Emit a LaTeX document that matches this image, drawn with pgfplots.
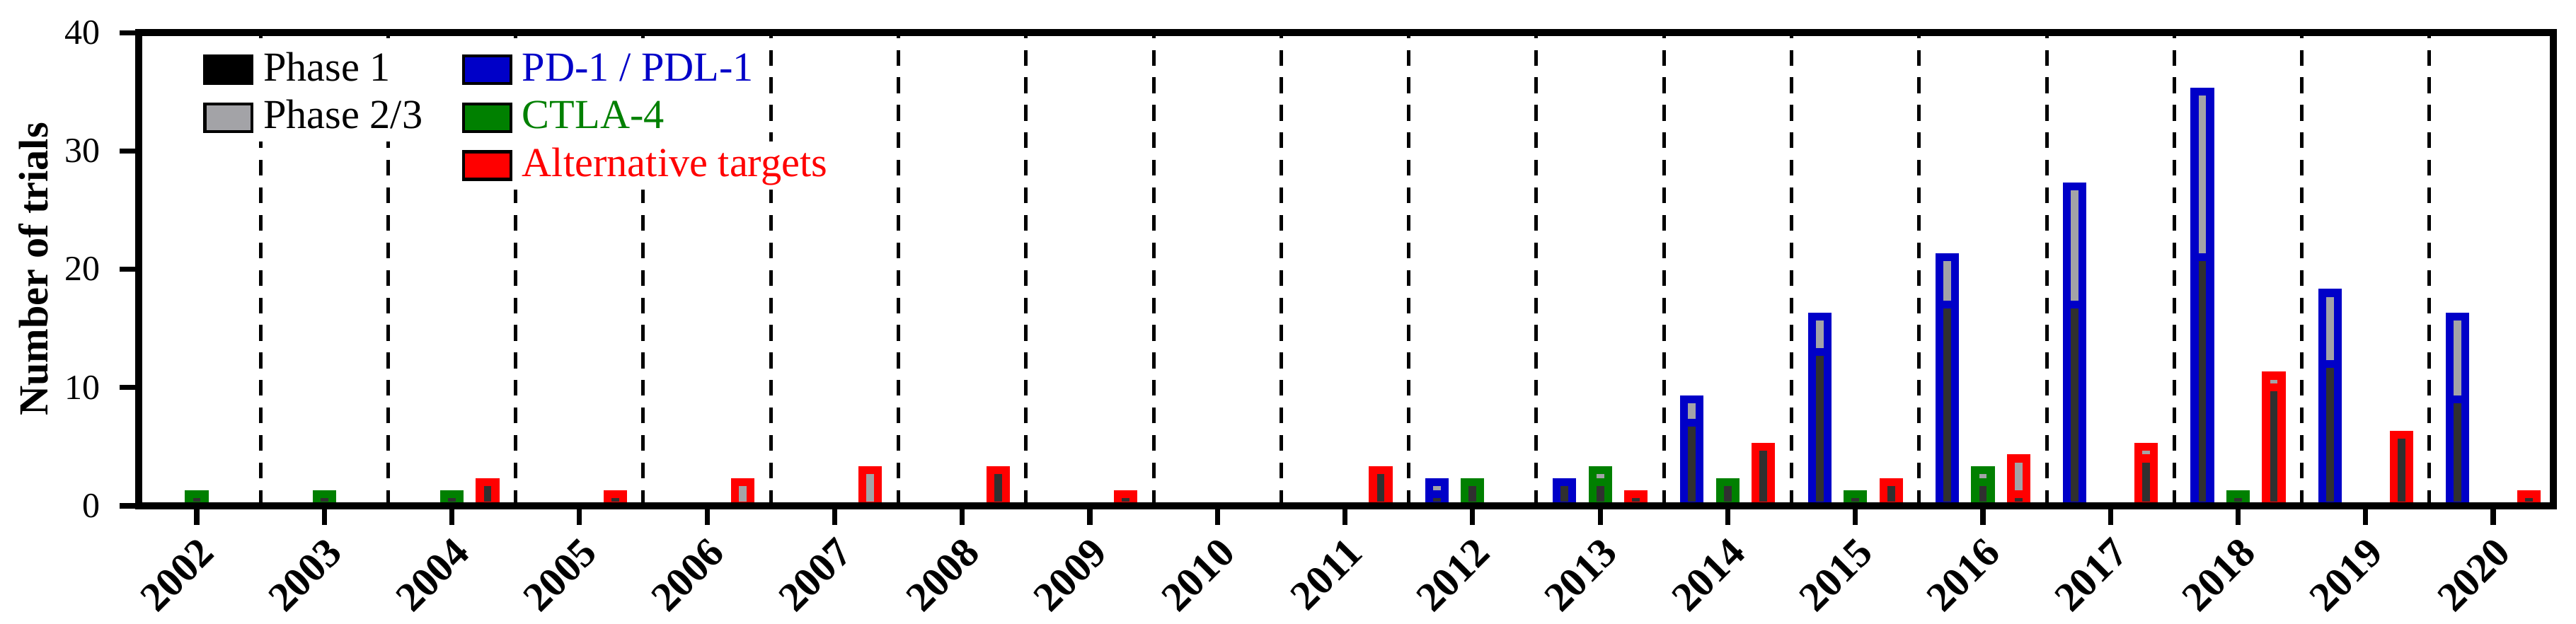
\documentclass[border=0pt]{standalone}
\usepackage{fontspec}
\setmainfont{Liberation Serif}
\usepackage{pgfplots}
\pgfplotsset{compat=1.18}

\definecolor{pdblue}{RGB}{0,0,200}
\definecolor{ctgreen}{RGB}{0,128,0}
\definecolor{altred}{RGB}{255,0,0}
\definecolor{phone}{RGB}{48,48,48}
\definecolor{phtwo}{RGB}{163,163,167}

\pgfplotsset{
  trialbar/.style={ybar, bar width=0.122, line width=2pt, forget plot},
}

\begin{document}
\begin{tikzpicture}
\path[use as bounding box] (-35.28pt,-30.06pt) rectangle (620pt,128.7pt);
\begin{axis}[
    scale only axis,
    width=614.2pt, height=120.4pt,
    xmin=-0.455, xmax=18.47,
    ymin=0, ymax=40,
    xtick={0,...,18},
    xticklabels={2002,2003,2004,2005,2006,2007,2008,2009,2010,2011,2012,2013,2014,2015,2016,2017,2018,2019,2020},
    ytick={0,10,20,30,40},
    tick pos=left,
    tick align=outside,
    major tick length=4.8pt,
    every tick/.style={black, line width=1.3pt},
    minor xtick={0.5,1.5,...,17.5},
    minor tick length=0pt,
    xminorgrids,
    minor grid style={black, line width=0.9pt, dash pattern=on 4pt off 3pt},
    axis line style={line width=1.8pt},
    axis on top,
    yticklabel shift=1.5pt,
    xticklabel style={yshift=-0.5pt, rotate=45, anchor=north east, inner sep=1.5pt,
                      font=\fontsize{10.5}{12}\selectfont\bfseries},
    yticklabel style={font=\fontsize{9}{11}\selectfont},
    /pgf/number format/assume math mode=true,
    ylabel={Number of trials},
    ylabel style={at={(axis description cs:-0.0437,0.5)}, anchor=center,
                  font=\fontsize{10.5}{12}\selectfont\bfseries},
    legend columns=2,
    legend cell align=left,
    legend image code/.code={\draw[#1] (0pt,-3.5pt) rectangle (12pt,3.5pt);},
    legend style={at={(0.0264,0.974)}, anchor=north west, draw=none, fill=none,
                  font=\fontsize{10.5}{12}\selectfont,
                  inner sep=0pt, row sep=0pt,
                  nodes={fill=white, inner xsep=2.5pt, inner ysep=0.7pt,
                         text height=8.2pt, text depth=2.6pt},
                  /tikz/every even column/.append style={column sep=7.5pt}},
]
% PD-1 / PDL-1: total, then phase 1
\addplot[trialbar, bar shift=-0.28, draw=pdblue, fill=phtwo] coordinates {
  (10,2) (11,2) (12,9) (13,16) (14,21) (15,27) (16,35) (17,18) (18,16)};
\addplot[trialbar, bar shift=-0.28, draw=pdblue, fill=phone] coordinates {
  (10,1) (11,2) (12,7) (13,13) (14,17) (15,17) (16,21) (17,12) (18,9)};
% CTLA-4
\addplot[trialbar, bar shift=0, draw=ctgreen, fill=phtwo] coordinates {
  (0,1) (1,1) (2,1) (10,2) (11,3) (12,2) (13,1) (14,3) (16,1)};
\addplot[trialbar, bar shift=0, draw=ctgreen, fill=phone] coordinates {
  (0,1) (1,1) (2,1) (10,2) (11,2) (12,2) (13,1) (14,2) (16,1)};
% alternative targets
\addplot[trialbar, bar shift=0.28, draw=altred, fill=phtwo] coordinates {
  (2,2) (3,1) (4,2) (5,3) (6,3) (7,1) (9,3) (11,1) (12,5) (13,2) (14,4) (15,5) (16,11) (17,6) (18,1)};
\addplot[trialbar, bar shift=0.28, draw=altred, fill=phone] coordinates {
  (2,2) (3,1) (6,3) (7,1) (9,3) (11,1) (12,5) (13,2) (14,1) (15,4) (16,10) (17,6) (18,1)};

\addlegendimage{fill=black, draw=black, line width=0.8pt}
\addlegendentry{Phase 1}
\addlegendimage{fill=pdblue, draw=black, line width=0.8pt}
\addlegendentry{\textcolor{pdblue}{PD-1 / PDL-1}}
\addlegendimage{fill=phtwo, draw=black, line width=0.8pt}
\addlegendentry{Phase 2/3}
\addlegendimage{fill=ctgreen, draw=black, line width=0.8pt}
\addlegendentry{\textcolor{ctgreen}{CTLA-4}}
\addlegendimage{empty legend}
\addlegendentry[fill=none]{}
\addlegendimage{fill=altred, draw=black, line width=0.8pt}
\addlegendentry{\textcolor{altred}{Alternative targets}}
\end{axis}
\end{tikzpicture}
\end{document}
